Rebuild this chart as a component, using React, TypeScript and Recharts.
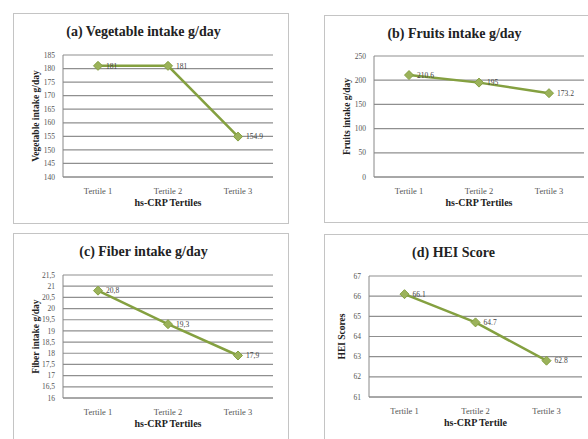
import { LineChart, Line, XAxis, YAxis, CartesianGrid, LabelList, Label } from "recharts";

const TERTILES = ["Tertile 1", "Tertile 2", "Tertile 3"];

const VEG = [181, 181, 154.9];
const VEG_TICKS = [140, 145, 150, 155, 160, 165, 170, 175, 180, 185];

const FRUIT = [210.6, 195, 173.2];
const FRUIT_TICKS = [0, 50, 100, 150, 200, 250];

const FIBER = [20.8, 19.3, 17.9];
const FIBER_TICKS = [16, 16.5, 17, 17.5, 18, 18.5, 19, 19.5, 20, 20.5, 21, 21.5];

const HEI = [66.1, 64.7, 62.8];
const HEI_TICKS = [61, 62, 63, 64, 65, 66, 67];

const GREEN = "#84a040";
const SERIF = "'Liberation Serif', 'Times New Roman', 'DejaVu Serif', serif";
const YTICK = { fontSize: 7.5, fill: "#555", fontFamily: SERIF };
const XTICK = { fontSize: 8.5, fill: "#555", fontFamily: SERIF };

const comma = (v: number) => String(v).replace(".", ",");

const Diamond = (p: any) => {
  const { cx, cy } = p;
  if (cx == null || cy == null) return null;
  return (
    <path
      d={`M${cx},${cy - 4.5}L${cx + 4.5},${cy}L${cx},${cy + 4.5}L${cx - 4.5},${cy}Z`}
      fill="#9bb25a" stroke={GREEN} strokeWidth={1}
    />
  );
};

type PanelProps = {
  title: string; values: number[]; ticks: number[]; yLabel: string; xLabel: string;
  left: number; top: number; width: number; height: number;
  plotLeft: number; plotTop: number; plotBottom: number; plotRight: number;
  fmt?: (v: number) => string;
};

function Panel({
  title, values, ticks, yLabel, xLabel, left, top, width, height,
  plotLeft, plotTop, plotBottom, plotRight, fmt = (v) => String(v),
}: PanelProps) {
  const data = TERTILES.map((t, i) => ({ name: t, value: values[i] }));
  const yw = 24;
  const xh = 34;
  const plotW = width - 3 - plotLeft - plotRight;
  const pad = plotW / 6;
  return (
    <div style={{
      position: "absolute", left, top, width, height,
      border: "1.5px solid #c4c4c4", boxSizing: "border-box", background: "#fff",
    }}>
      <div style={{
        position: "absolute", left: 0, top: 10, width: plotLeft + plotW,
        textAlign: "center", fontFamily: SERIF, fontWeight: "bold", fontSize: 14, color: "#222",
      }}>
        {title}
      </div>
      <LineChart
        width={width - 3} height={height - 3} data={data}
        margin={{ top: plotTop, right: plotRight, left: plotLeft - yw, bottom: height - 3 - plotBottom - xh }}
      >
        <CartesianGrid vertical={false} stroke="#8f8f8f" strokeWidth={1.2} />
        <XAxis
          dataKey="name" height={xh} tick={XTICK} tickLine={false}
          axisLine={{ stroke: "#888" }} interval={0} tickMargin={5}
          padding={{ left: pad, right: pad }}
        >
          <Label value={xLabel} position="insideBottom" offset={5}
            style={{ fontSize: 10, fontWeight: "bold", fill: "#222", fontFamily: SERIF }} />
        </XAxis>
        <YAxis
          width={yw} ticks={ticks} domain={[ticks[0], ticks[ticks.length - 1]]}
          tick={YTICK} tickLine={false} axisLine={{ stroke: "#888" }}
          tickFormatter={(v: number) => fmt(v)} interval={0}
        >
          <Label value={yLabel} angle={-90} position="left" offset={3}
            style={{ fontSize: 9.5, fontWeight: "bold", fill: "#222", fontFamily: SERIF, textAnchor: "middle" }} />
        </YAxis>
        <Line
          dataKey="value" stroke={GREEN} strokeWidth={2.5} dot={<Diamond />}
          isAnimationActive={false}
        >
          <LabelList dataKey="value" position="right" offset={8}
            formatter={(v: any) => fmt(v as number)}
            style={{ fontSize: 7.5, fill: "#444", fontFamily: SERIF }} />
        </Line>
      </LineChart>
    </div>
  );
}

export default function App() {
  return (
    <div style={{ position: "absolute", left: 0, top: 0, width: 588, height: 439, overflow: "hidden", background: "#fff" }}>
      <Panel title="(a) Vegetable intake g/day" values={VEG} ticks={VEG_TICKS}
        yLabel="Vegetable intake g/day" xLabel="hs-CRP Tertiles"
        left={13} top={13} width={276} height={211}
        plotLeft={49} plotTop={41} plotBottom={163} plotRight={14} />
      <Panel title="(b) Fruits intake g/day" values={FRUIT} ticks={FRUIT_TICKS}
        yLabel="Fruits intake g/day" xLabel="hs-CRP Tertiles"
        left={324} top={15} width={282} height={208}
        plotLeft={49} plotTop={40} plotBottom={161} plotRight={20} />
      <Panel title="(c) Fiber intake g/day" values={FIBER} ticks={FIBER_TICKS}
        yLabel="Fiber intake g/day" xLabel="hs-CRP Tertiles" fmt={comma}
        left={13} top={233} width={276} height={215}
        plotLeft={49} plotTop={41} plotBottom={164} plotRight={14} />
      <Panel title="(d) HEI Score" values={HEI} ticks={HEI_TICKS}
        yLabel="HEI Scores" xLabel="hs-CRP Tertile"
        left={324} top={234} width={282} height={215}
        plotLeft={44} plotTop={41} plotBottom={162} plotRight={22} />
    </div>
  );
}
